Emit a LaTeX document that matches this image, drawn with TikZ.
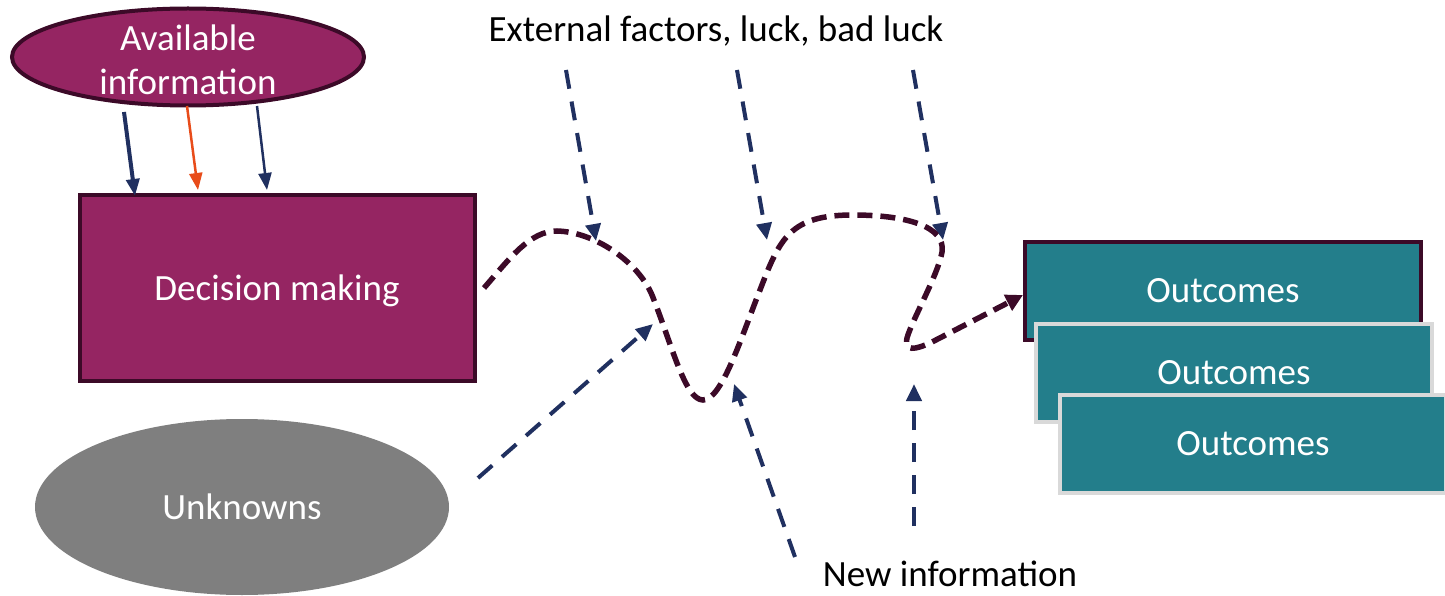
\documentclass[tikz,border=0pt]{standalone}
\usepackage{fontspec}
\setmainfont{Carlito}
\usetikzlibrary{arrows.meta,shapes.geometric}
\definecolor{plum}{HTML}{952562}
\definecolor{darkplum}{HTML}{3C0A28}
\definecolor{navy}{HTML}{203060}
\definecolor{orng}{HTML}{E84C1A}
\definecolor{teal2}{HTML}{237E8B}
\definecolor{grey2}{HTML}{7F7F7F}
\definecolor{lgrey}{HTML}{D9D9D9}
\tikzset{
  bigfont/.style={font=\fontsize{37}{44}\selectfont},
  txt/.style={bigfont, align=center},
  plumbox/.style={draw=darkplum, line width=4pt, fill=plum, text=white, txt, minimum width=395pt, minimum height=186pt},
  outbox/.style={fill=teal2, text=white, txt, minimum width=396pt, minimum height=98pt, line width=4pt},
  navyarrow/.style={draw=navy, line width=4pt, dash pattern=on 19pt off 13pt, -{Triangle[length=17pt,width=15pt]}},
  solidarrow/.style={line width=#1, -{Triangle[length=17pt,width=13pt]}},
  curve/.style={draw=darkplum, line width=5.5pt, dash pattern=on 15pt off 8pt, -{Triangle[length=17pt,width=17pt]}}
}
\begin{document}
\begin{tikzpicture}[x=1pt,y=-1pt]
\useasboundingbox (0,0) rectangle (1445,596);
% Unknowns
\node[ellipse, fill=grey2, text=white, txt, minimum width=414pt, minimum height=176pt, inner sep=0pt] (unk) at (242,507) {Unknowns};
% Decision making
\node[plumbox] (dec) at (277,288) {};
\node[txt, text=white] (dectxt) at (277,291) {Decision making};
% Available information
\node[ellipse, draw=darkplum, line width=4pt, fill=plum, text=white, txt, minimum width=352pt, minimum height=97pt, inner sep=0pt] (avail) at (188,57) {};
\node[txt, text=white] (availtxt) at (188,60) {Available\\information};
% arrows from available info
\coordinate (a1s) at (124,112); \coordinate (a1e) at (135,196);
\coordinate (a2s) at (187,106); \coordinate (a2e) at (198,190);
\coordinate (a3s) at (257,106); \coordinate (a3e) at (267,190);
\draw[solidarrow=4pt, draw=navy] (a1s) -- (a1e);
\draw[solidarrow=2.5pt, draw=orng] (a2s) -- (a2e);
\draw[solidarrow=2.5pt, draw=navy] (a3s) -- (a3e);
% External factors
\node[txt, text=black] (ext) at (716,31) {External factors, luck, bad luck};
\coordinate (e1s) at (566,70); \coordinate (e1e) at (596,241);
\coordinate (e2s) at (737,70); \coordinate (e2e) at (767,240);
\coordinate (e3s) at (913,70); \coordinate (e3e) at (943,240);
\draw[navyarrow] (e1s) -- (e1e);
\draw[navyarrow] (e2s) -- (e2e);
\draw[navyarrow] (e3s) -- (e3e);
% Unknowns arrow
\coordinate (u1s) at (478,478); \coordinate (u1e) at (653,324);
\draw[navyarrow] (u1s) -- (u1e);
% New information
\node[bigfont, text=black, inner sep=0pt, anchor=base] (newinfo) at (950,586) {New information};
\coordinate (n1s) at (795,557); \coordinate (n1e) at (734,384);
\coordinate (n2s) at (914,526); \coordinate (n2e) at (914,384);
\draw[navyarrow] (n1s) -- (n1e);
\draw[navyarrow] (n2s) -- (n2e);
% Outcomes boxes
\node[outbox, draw=darkplum] (out1) at (1223,291) {Outcomes};
\node[outbox, draw=lgrey] (out2) at (1234,373) {Outcomes};
\node[outbox, draw=lgrey, minimum width=386pt] (out3) at (1253,444) {Outcomes};
% the winding path
\coordinate (cs) at (484,288);
\coordinate (out1w) at ([yshift=-4pt]out1.west);
\draw[curve] (cs) .. controls (510,258) and (530,231) .. (557,231)
  .. controls (595,232) and (638,262) .. (652,295)
  .. controls (672,345) and (685,400) .. (703,400)
  .. controls (722,400) and (742,335) .. (760,290)
  .. controls (780,238) and (790,215) .. (853,215)
  .. controls (905,215) and (946,226) .. (942,252)
  .. controls (938,275) and (912,320) .. (907,338)
  .. controls (904,352) and (915,350) .. (932,342)
  -- (out1w);
\end{tikzpicture}
\end{document}
